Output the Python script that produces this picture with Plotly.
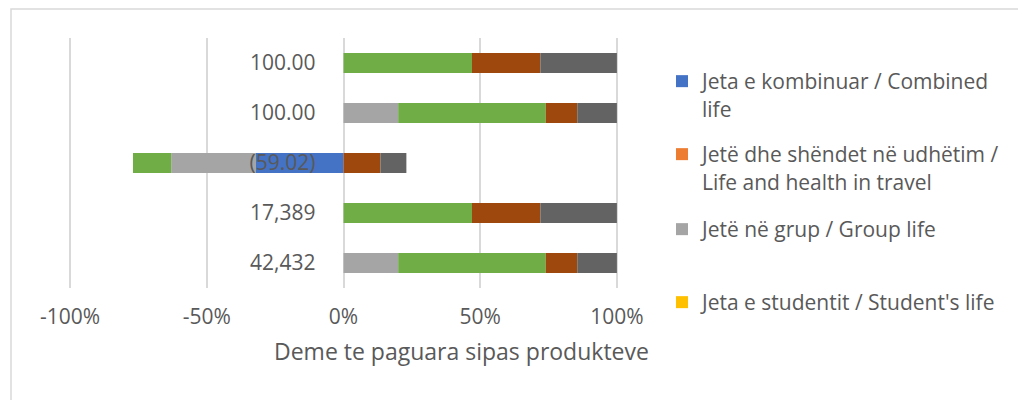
import plotly.graph_objects as go

# Category labels (bottom -> top as plotted)
categories = ["42,432", "17,389", "(59.02)", "100.00", "100.00"]
ypos = [0, 1, 2, 3, 4]

# X tick values and labels
xticks = [-1, -0.5, 0, 0.5, 1]
xticklabels = ["-100%", "-50%", "0%", "50%", "100%"]

# Series values (share of total, bottom -> top)
combined = [0, 0, -0.32, 0, 0]
travel = [0, 0, 0, 0, 0]
group = [0.20, 0, -0.31, 0.20, 0]
student = [0, 0, 0, 0, 0]
series5 = [0, 0, 0, 0, 0]
green = [0.54, 0.47, -0.14, 0.54, 0.47]
series7 = [0, 0, 0, 0, 0]
brown = [0.115, 0.25, 0.135, 0.115, 0.25]
darkgray = [0.145, 0.28, 0.095, 0.145, 0.28]

series = [
    ("Jeta e kombinuar / Combined<br>life", combined, "#4472C4", "legend"),
    ("Jetë dhe shëndet në udhëtim /<br>Life and health in travel", travel, "#ED7D31", "legend2"),
    ("Jetë në grup / Group life", group, "#A5A5A5", "legend3"),
    ("Jeta e studentit / Student's life", student, "#FFC000", "legend4"),
    ("Series 5", series5, "#5B9BD5", None),
    ("Series 6", green, "#70AD47", None),
    ("Series 7", series7, "#264478", None),
    ("Series 8", brown, "#9E480E", None),
    ("Series 9", darkgray, "#636363", None),
]

FONT = "Open Sans"
TXT = "#595959"
FS = 21

fig = go.Figure()
for name, vals, color, leg in series:
    kw = dict(legend=leg) if leg else {}
    fig.add_trace(go.Bar(
        y=ypos, x=vals, orientation="h", name=name,
        marker=dict(color=color, line=dict(width=0)),
        showlegend=leg is not None, **kw,
    ))

W, H = 1026, 400
OFF = 8  # page body margin
L, T = 61, 30
pw, ph = 549, 250
R = W - L - pw
B = H - T - ph

def sx(x):
    return (x - OFF - L) / pw

def sy(y):
    return (H - B - (y - OFF)) / ph

def leg(ytop):
    return dict(
        x=sx(662), y=sy(ytop), xanchor="left", yanchor="top",
        valign="top", font=dict(family=FONT, size=FS, color=TXT),
        itemwidth=30, bgcolor="rgba(0,0,0,0)", maxheight=400,
    )

fig.update_layout(
    width=W, height=H,
    margin=dict(l=L, r=R, t=T, b=B, autoexpand=False),
    barmode="relative", bargap=0.6,
    plot_bgcolor="white", paper_bgcolor="white",
    font=dict(family=FONT, size=FS, color=TXT),
    legend=leg(61), legend2=leg(134), legend3=leg(209), legend4=leg(282),
    xaxis=dict(
        range=[-1.004, 1.004], tickvals=xticks, ticktext=xticklabels,
        showgrid=True, gridcolor="#D9D9D9", gridwidth=1.5,
        zeroline=True, zerolinecolor="#D9D9D9", zerolinewidth=1.5,
        showline=False, ticks="", ticklabelstandoff=14, automargin=False,
        tickfont=dict(family=FONT, size=FS, color=TXT),
    ),
    yaxis=dict(
        range=[-0.5, 4.5], tickvals=ypos, ticktext=categories,
        anchor="free", position=0.5, side="left",
        showgrid=False, zeroline=False, showline=False, ticks="",
        ticklabelstandoff=28, automargin=False,
        tickfont=dict(family=FONT, size=FS, color=TXT),
    ),
    annotations=[dict(
        text="Deme te paguara sipas produkteve", xref="paper", yref="paper",
        x=sx(461), y=sy(351), xanchor="center", yanchor="middle",
        showarrow=False, font=dict(family=FONT, size=23, color=TXT),
    )],
    shapes=[dict(
        type="rect", xref="paper", yref="paper",
        x0=sx(11), x1=sx(1045), y0=sy(9), y1=sy(415),
        line=dict(color="#D9D9D9", width=1.5), layer="below",
    )],
)

fig.write_html("out.html")
